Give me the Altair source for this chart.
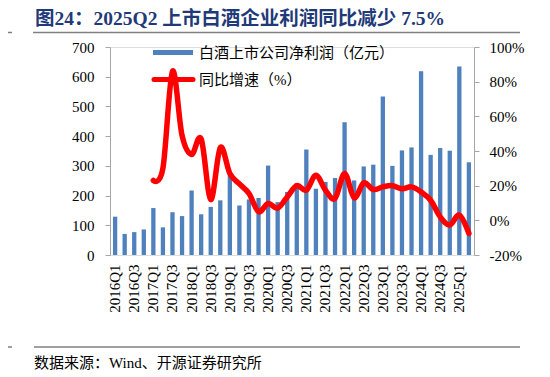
import altair as alt
import pandas as pd

quarters = [f"{y}Q{q}" for y in range(2016, 2026) for q in range(1, 5)][:38]
profit = [129, 71, 77, 86,
          158, 93, 144, 131,
          217, 137, 162, 184,
          271, 167, 187, 192,
          301, 178, 212, 242,
          355, 223, 246, 259,
          447, 251, 298, 304,
          533, 300, 352, 362,
          618, 337, 360, 351,
          634, 312]
growth_quarters = quarters[4:]
growth = [23, 30, 86, 49,
          38, 47, 12, 42,
          27, 21, 15.5, 5,
          9.7, 7, 13.5, 20,
          17.4, 26, 17.4, 12.6,
          27, 13, 21.6, 17.8,
          19.3, 20, 18.2, 19.3,
          16.4, 11.6, 2, -2.7,
          3, -7.5]
left_ticks = [0, 100, 200, 300, 400, 500, 600, 700]
right_ticks = [-20, 0, 20, 40, 60, 80, 100]
title_text = "图24：2025Q2 上市白酒企业利润同比减少 7.5%"
source_text = "数据来源：Wind、开源证券研究所"
legend_bar = "白酒上市公司净利润（亿元）"
legend_line = "同比增速（%）"

SERIF = "Liberation Serif, Noto Sans CJK SC"
BLUE = "#4F81BD"
RED = "#FF0000"
GRAY = "#A6A6A6"
W, H = 364, 208

bar_df = pd.DataFrame({"q": quarters, "profit": profit})
line_df = pd.DataFrame({"q": growth_quarters, "growth": growth})

xscale = alt.Scale(domain=quarters, paddingInner=0.55, paddingOuter=0.31)
xaxis = alt.Axis(values=quarters[::2], labelAngle=-90, labelAlign="right",
                 labelBaseline="middle", labelFont=SERIF, labelFontSize=15,
                 labelColor="black", domain=False, ticks=False, labelPadding=9,
                 title=None)

bars = alt.Chart(bar_df).mark_bar(color=BLUE).encode(
    x=alt.X("q:N", scale=xscale, axis=xaxis, sort=quarters),
    y=alt.Y("profit:Q", scale=alt.Scale(domain=[0, 700], nice=False),
            axis=alt.Axis(values=left_ticks, labelFont=SERIF, labelFontSize=15,
                          labelColor="black", domainColor=GRAY, tickColor=GRAY,
                          tickSize=5, labelPadding=11, grid=False, title=None,
                          orient="left")),
)

line = alt.Chart(line_df).mark_line(color=RED, strokeWidth=5.5, interpolate="cardinal",
                                    strokeCap="round", strokeJoin="round").encode(
    x=alt.X("q:N", scale=xscale, sort=quarters),
    y=alt.Y("growth:Q", scale=alt.Scale(domain=[-20, 100], nice=False),
            axis=alt.Axis(values=right_ticks, labelExpr="datum.value + '%'",
                          labelFont=SERIF, labelFontSize=15, labelColor="black",
                          domainColor=GRAY, tickColor=GRAY, tickSize=5,
                          labelPadding=10, grid=False, title=None, orient="right")),
)

one = pd.DataFrame({"k": [0]})

leg_bar_sw = alt.Chart(one).mark_rule(color=BLUE, strokeWidth=5).encode(
    x=alt.value(43), x2=alt.value(83), y=alt.value(5.5))
leg_bar_tx = alt.Chart(pd.DataFrame({"t": [legend_bar]})).mark_text(
    align="left", baseline="middle", font=SERIF, fontSize=15, color="black").encode(
    text="t:N", x=alt.value(89), y=alt.value(5.5))
leg_line_sw = alt.Chart(one).mark_rule(color=RED, strokeWidth=5, strokeCap="round").encode(
    x=alt.value(44), x2=alt.value(83), y=alt.value(32.5))
leg_line_tx = alt.Chart(pd.DataFrame({"t": [legend_line]})).mark_text(
    align="left", baseline="middle", font=SERIF, fontSize=15, color="black").encode(
    text="t:N", x=alt.value(89), y=alt.value(32.5))

title = alt.Chart(pd.DataFrame({"t": [title_text]})).mark_text(
    align="left", baseline="middle", font=SERIF, fontSize=19.5, fontWeight="bold",
    color="#1F3A78").encode(text="t:N", x=alt.value(-75), y=alt.value(-28))
top_rule = alt.Chart(one).mark_rule(color="#808080", strokeWidth=1.5).encode(
    x=alt.value(-77), x2=alt.value(410), y=alt.value(-14.5))
top_dash = alt.Chart(one).mark_rule(color="#808080", strokeWidth=1.5).encode(
    x=alt.value(-102), x2=alt.value(-98), y=alt.value(-14.5))
bot_rule = alt.Chart(one).mark_rule(color="#808080", strokeWidth=1.5).encode(
    x=alt.value(-76), x2=alt.value(410), y=alt.value(300))
bot_dash = alt.Chart(one).mark_rule(color="#808080", strokeWidth=1.5).encode(
    x=alt.value(-102), x2=alt.value(-98), y=alt.value(300))
source = alt.Chart(pd.DataFrame({"t": [source_text]})).mark_text(
    align="left", baseline="middle", font=SERIF, fontSize=15, color="black").encode(
    text="t:N", x=alt.value(-76), y=alt.value(316))

chart = alt.layer(
    bars, line, leg_bar_sw, leg_bar_tx, leg_line_sw, leg_line_tx,
    title, top_rule, top_dash, bot_rule, bot_dash, source
).resolve_scale(y="independent").properties(
    width=W, height=H,
    autosize=alt.AutoSizeParams(type="none"),
    padding={"left": 102, "top": 39, "right": 58, "bottom": 118},
).configure_view(stroke=None).configure(background="white")

chart.save("out.html", embed_options={"renderer": "svg", "actions": False})
